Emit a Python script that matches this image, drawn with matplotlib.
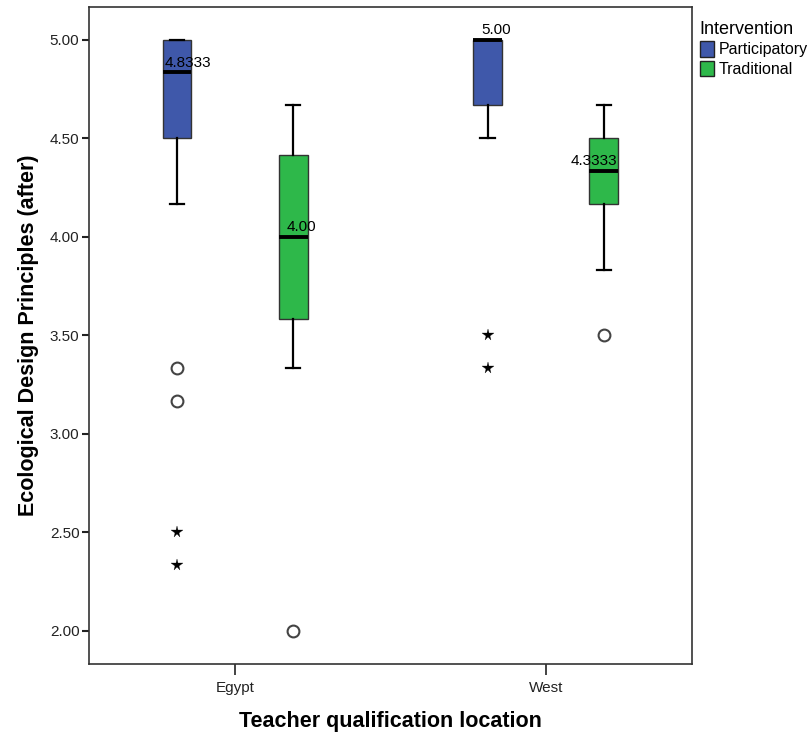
"""Box plot: ecological design principles (after) by teacher qualification
location and intervention type."""

import matplotlib
matplotlib.use("Agg")
import matplotlib.pyplot as plt
from matplotlib.patches import Patch

plt.rcParams["font.family"] = ["Liberation Sans", "DejaVu Sans"]

locations = ["Egypt", "West"]
interventions = ["Participatory", "Traditional"]
colors = {"Participatory": "#3f58aa", "Traditional": "#2eb84a"}

# Five-number summaries per (location, intervention)
q1 = {("Egypt", "Participatory"): 4.5, ("Egypt", "Traditional"): 3.5833,
      ("West", "Participatory"): 4.6667, ("West", "Traditional"): 4.1667}
median = {("Egypt", "Participatory"): 4.8333, ("Egypt", "Traditional"): 4.00,
          ("West", "Participatory"): 5.00, ("West", "Traditional"): 4.3333}
q3 = {("Egypt", "Participatory"): 5.0, ("Egypt", "Traditional"): 4.4167,
      ("West", "Participatory"): 5.0, ("West", "Traditional"): 4.5}
whis_lo = {("Egypt", "Participatory"): 4.1667, ("Egypt", "Traditional"): 3.3333,
           ("West", "Participatory"): 4.5, ("West", "Traditional"): 3.8333}
whis_hi = {("Egypt", "Participatory"): 5.0, ("Egypt", "Traditional"): 4.6667,
           ("West", "Participatory"): 5.0, ("West", "Traditional"): 4.6667}
# mild outliers (circles) and extremes (stars)
outliers = {("Egypt", "Participatory"): [3.3333, 3.1667],
            ("Egypt", "Traditional"): [2.0],
            ("West", "Participatory"): [],
            ("West", "Traditional"): [3.5]}
extremes = {("Egypt", "Participatory"): [2.5, 2.3333],
            ("Egypt", "Traditional"): [],
            ("West", "Participatory"): [3.5, 3.3333],
            ("West", "Traditional"): []}
median_labels = {("Egypt", "Participatory"): "4.8333",
                 ("Egypt", "Traditional"): "4.00",
                 ("West", "Participatory"): "5.00",
                 ("West", "Traditional"): "4.3333"}
label_shift = {("Egypt", "Participatory"): 8, ("Egypt", "Traditional"): 6,
               ("West", "Participatory"): 6, ("West", "Traditional"): -7}

fig = plt.figure(figsize=(8.1, 7.36), dpi=100)
ax = fig.add_axes([0.110, 0.098, 0.744, 0.893])

offset = 0.187
width = 0.093
ink = "#222222"

for i, loc in enumerate(locations):
    for j, iv in enumerate(interventions):
        key = (loc, iv)
        pos = i + (-offset if j == 0 else offset)
        stats = [{"med": median[key], "q1": q1[key], "q3": q3[key],
                  "whislo": whis_lo[key], "whishi": whis_hi[key],
                  "fliers": []}]
        ax.bxp(stats, positions=[pos], widths=width, patch_artist=True,
               showfliers=False, manage_ticks=False,
               boxprops=dict(facecolor=colors[iv], edgecolor="#333333",
                             linewidth=1.0),
               medianprops=dict(color="black", linewidth=2.8),
               whiskerprops=dict(color="black", linewidth=1.6),
               capprops=dict(color="black", linewidth=1.6),
               capwidths=width / 2)
        if outliers[key]:
            ax.plot([pos] * len(outliers[key]), outliers[key], "o",
                    mfc="white", mec="#444444", mew=1.5, ms=8.5, zorder=4)
        if extremes[key]:
            ax.plot([pos] * len(extremes[key]), extremes[key], "*",
                    color="black", ms=8.5, mew=0.2, zorder=4)
        ax.annotate(median_labels[key], (pos, median[key]),
                    xytext=(label_shift[key], 2), textcoords="offset points",
                    ha="center", va="bottom", fontsize=11, color="black",
                    zorder=5)

ax.set_xlim(-0.47, 1.47)
ax.set_ylim(1.833, 5.167)
ax.set_xticks(range(len(locations)))
ax.set_xticklabels(locations)
yticks = [2.0, 2.5, 3.0, 3.5, 4.0, 4.5, 5.0]
ax.set_yticks(yticks)
ax.set_yticklabels([f"{v:.2f}" for v in yticks])
ax.tick_params(axis="y", direction="out", length=5, width=1.5,
               labelsize=11, colors=ink, pad=2)
ax.tick_params(axis="x", direction="out", length=8, width=1.2,
               labelsize=11, colors=ink, pad=4)
for spine in ax.spines.values():
    spine.set_color("#333333")
    spine.set_linewidth(1.2)

ax.set_xlabel("Teacher qualification location", fontsize=15.5,
              fontweight="bold", labelpad=12)
ax.set_ylabel("Ecological Design Principles (after)", fontsize=15.5,
              fontweight="bold", labelpad=8)

handles = [Patch(facecolor=colors[iv], edgecolor="#222222", label=iv)
           for iv in interventions]
leg = ax.legend(handles=handles, title="Intervention", loc="upper left",
                bbox_to_anchor=(1.0, 0.99), frameon=False, fontsize=11.5,
                title_fontsize=13, handlelength=0.9, handleheight=1.1,
                handletextpad=0.3, labelspacing=0.2, borderaxespad=0.2,
                borderpad=0.3)
leg._legend_box.align = "left"

fig.savefig("out.png", dpi=100, facecolor="white")
